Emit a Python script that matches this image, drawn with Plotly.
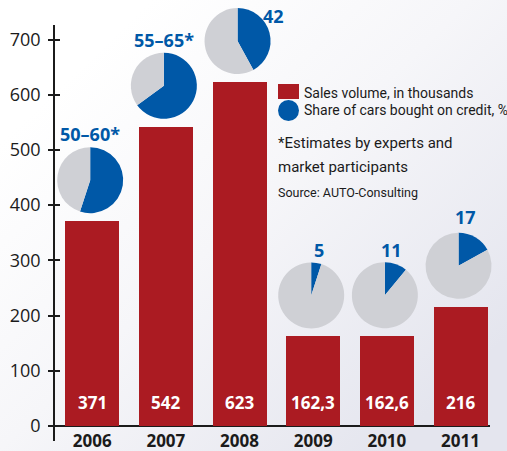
import base64
import plotly.graph_objects as go

# ---------------- data ----------------
years = ["2006", "2007", "2008", "2009", "2010", "2011"]
sales = [371, 542, 623, 162.3, 162.6, 216]            # thousands
credit_share = [55, 65, 42, 5, 11, 17]                  # % (pie slices)
credit_labels = ["50–60*", "55–65*", "42", "5", "11", "17"]

# ---------------- style / layout ----------------
W, H = 507, 451
RED = "#ab1b22"
BLUE = "#0058a7"
GRAY = "#cfd0d5"
DARK = "#1b1b1b"
NUM_FONT = "Open Sans"
LEG_FONT = "Roboto"

# plot-area pixels
PX_L, PX_R, PX_T, PX_B = 48, 490, 25, 441
XR = [-0.6, 5.4]
Y_ZERO_PX, Y700_PX = 426, 39.5
ys = (Y_ZERO_PX - Y700_PX) / 700.0
YR = [-(PX_B - Y_ZERO_PX) / ys, -(PX_B - Y_ZERO_PX) / ys + (PX_B - PX_T) / ys]


def fx(p):
    return p / W


def fy(p):
    return 1 - p / H


def bar_cx_px(i):
    return PX_L + (i - XR[0]) / (XR[1] - XR[0]) * (PX_R - PX_L)


def val_px(v):
    return Y_ZERO_PX - v * ys


xs = list(range(len(years)))
value_text = [str(v).replace(".", ",") for v in sales]

fig = go.Figure()

# background gradient
svg = ('<svg xmlns="http://www.w3.org/2000/svg" width="507" height="451">'
       '<defs><linearGradient id="g" x1="0.25" y1="0.05" x2="1" y2="0.75">'
       '<stop offset="0" stop-color="#ffffff"/><stop offset="0.45" stop-color="#f6f6f9"/>'
       '<stop offset="1" stop-color="#e4e5ee"/></linearGradient></defs>'
       '<rect width="507" height="451" fill="url(#g)"/></svg>')
bg_uri = "data:image/svg+xml;base64," + base64.b64encode(svg.encode()).decode()

fig.add_trace(go.Bar(
    x=xs, y=sales, width=0.734, marker=dict(color=RED, line=dict(width=0)),
    showlegend=False, hoverinfo="skip",
))
# dummy trace for crossing ticks axis
fig.add_trace(go.Scatter(x=[0], y=[0], yaxis="y2", mode="markers",
                         marker=dict(opacity=0), showlegend=False, hoverinfo="skip"))

# pies
R = 33
PIE_GAP = 41
for i, p in enumerate(credit_share):
    cx = bar_cx_px(i) - 2
    cy = val_px(sales[i]) - PIE_GAP
    fig.add_trace(go.Pie(
        values=[p, 100 - p], sort=False, direction="clockwise", rotation=0,
        marker=dict(colors=[BLUE, GRAY], line=dict(width=0)),
        textinfo="none", hoverinfo="skip", showlegend=False,
        domain=dict(x=[fx(cx - R), fx(cx + R)], y=[fy(cy + R), fy(cy - R)]),
    ))

annotations = []
# pie labels (offset from pie centre, px)
label_off = [(0, -46), (0, -46), (36, -25), (8, -45), (7, -45), (7, -49)]
for i, lab in enumerate(credit_labels):
    cx = bar_cx_px(i) - 2
    cy = val_px(sales[i]) - PIE_GAP
    dx, dy = label_off[i]
    annotations.append(dict(
        x=fx(cx + dx), y=fy(cy + dy), xref="paper", yref="paper", text=lab,
        showarrow=False, xanchor="center", yanchor="middle",
        font=dict(family=NUM_FONT, size=18, color=BLUE, weight="bold"),
    ))

# value labels inside bars
for i, t in enumerate(value_text):
    annotations.append(dict(
        x=xs[i], y=0, xref="x", yref="y", text=t, showarrow=False,
        yshift=24, xanchor="center", yanchor="middle",
        font=dict(family=NUM_FONT, size=17, color="white", weight="bold"),
    ))

# legend
annotations += [
    dict(x=fx(302), y=fy(93), xref="paper", yref="paper", text="Sales volume, in thousands",
         showarrow=False, xanchor="left", yanchor="middle",
         font=dict(family=LEG_FONT, size=14, color=DARK)),
    dict(x=fx(302), y=fy(110), xref="paper", yref="paper", text="Share of cars bought on credit, %",
         showarrow=False, xanchor="left", yanchor="middle",
         font=dict(family=LEG_FONT, size=14, color=DARK)),
    dict(x=fx(276), y=fy(143), xref="paper", yref="paper", text="*Estimates by experts and",
         showarrow=False, xanchor="left", yanchor="middle",
         font=dict(family=LEG_FONT, size=15, color=DARK)),
    dict(x=fx(276), y=fy(167), xref="paper", yref="paper", text="market participants",
         showarrow=False, xanchor="left", yanchor="middle",
         font=dict(family=LEG_FONT, size=15, color=DARK)),
    dict(x=fx(276), y=fy(192), xref="paper", yref="paper", text="Source: AUTO-Consulting",
         showarrow=False, xanchor="left", yanchor="middle",
         font=dict(family=LEG_FONT, size=12.5, color=DARK)),
]

shapes = [
    dict(type="rect", xref="paper", yref="paper", x0=fx(278), x1=fx(299), y0=fy(99), y1=fy(84),
         fillcolor=RED, line=dict(width=0)),
    dict(type="circle", xref="paper", yref="paper", x0=fx(278), x1=fx(299), y0=fy(121), y1=fy(100),
         fillcolor=BLUE, line=dict(width=0)),
]

fig.update_layout(
    template="none",
    width=W, height=H,
    margin=dict(l=0, r=0, t=0, b=0, pad=0),
    paper_bgcolor="white", plot_bgcolor="rgba(0,0,0,0)",
    bargap=0,
    images=[dict(source=bg_uri, xref="paper", yref="paper", x=0, y=1, sizex=1, sizey=1,
                 sizing="stretch", layer="below", xanchor="left", yanchor="top")],
    xaxis=dict(
        domain=[fx(PX_L), fx(PX_R)], range=XR, anchor="free", position=fy(Y_ZERO_PX),
        tickvals=xs, ticktext=years, ticks="", showline=False, showgrid=False,
        zeroline=False, automargin=False, fixedrange=True, ticklabelstandoff=3,
        tickfont=dict(family=NUM_FONT, size=17, color=DARK, weight="bold"),
    ),
    yaxis=dict(
        domain=[fy(PX_B), fy(PX_T)], range=YR, anchor="free", position=fx(54),
        tickvals=[0, 100, 200, 300, 400, 500, 600, 700], ticks="outside", ticklen=5,
        tickwidth=1.5, tickcolor=DARK, showline=True, linewidth=1.5, linecolor=DARK,
        showgrid=False, zeroline=True, zerolinewidth=2, zerolinecolor=DARK,
        automargin=False, ticklabelstandoff=4,
        tickfont=dict(family=NUM_FONT, size=18, color=DARK),
    ),
    yaxis2=dict(
        domain=[fy(PX_B), fy(PX_T)], range=YR, anchor="free", position=fx(54),
        overlaying="y", side="left",
        tickvals=[0, 100, 200, 300, 400, 500, 600, 700], ticks="inside", ticklen=5,
        tickwidth=1.5, tickcolor=DARK, showticklabels=False, showline=False,
        showgrid=False, zeroline=False, automargin=False,
    ),
    annotations=annotations,
    shapes=shapes,
)

fig.write_html("out.html")
